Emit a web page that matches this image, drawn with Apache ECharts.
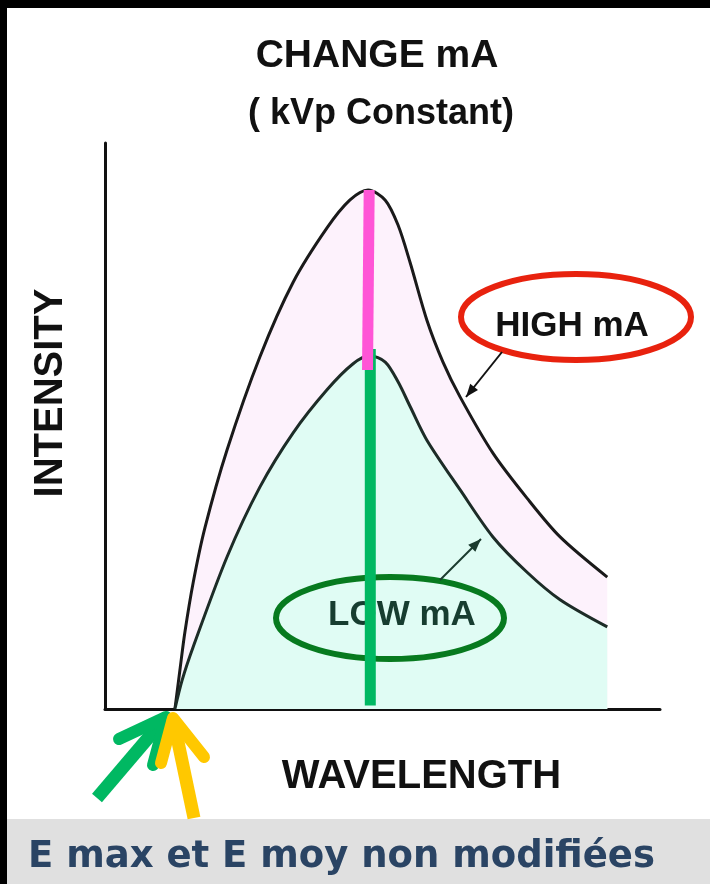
<!DOCTYPE html>
<html>
<head>
<meta charset="utf-8">
<script src="https://cdn.jsdelivr.net/npm/echarts@6/dist/echarts.min.js"></script>
<style>
  html, body { margin: 0; padding: 0; background: #000; }
  #chart { width: 710px; height: 884px; }
</style>
</head>
<body>
<div id="chart"></div>
<script>
// Emission spectrum at two tube currents (arbitrary units)
const highWavelength = [12.6, 13.5, 14.4, 15.9, 18.0, 22.0, 27.9, 33.9, 40.0, 44.1, 47.4, 50.5, 52.8, 55.0, 58.0, 60.9, 64.0, 69.9, 76.0, 82.0, 90.5];
const highIntensity  = [0,    6.9,  13.6, 22.4, 32.0, 45.8, 62.2, 75.4, 85.0, 89.9, 91.7, 89.9, 85.5, 78.8, 68.7, 61.3, 55.1, 45.2, 37.3, 30.4, 23.3];

const lowWavelength  = [12.6, 13.9, 15.9, 22.0, 27.9, 33.9, 40.0, 44.7, 47.7, 50.5, 52.8, 55.0, 58.0, 64.0, 69.9, 76.0, 82.0, 90.5];
const lowIntensity   = [0,    5.1,  11.0, 26.9, 39.2, 48.8, 56.4, 61.0, 62.4, 61.3, 57.8, 53.4, 47.5, 38.7, 30.4, 24.2, 19.3, 14.5];

// Wavelength of maximum intensity (same for both currents)
const peakWavelength = 47.6;

const titleText = 'CHANGE mA';
const subtitleText = '( kVp Constant)';
const xName = 'WAVELENGTH';
const yName = 'INTENSITY';
const highLabel = 'HIGH mA';
const lowLabel = 'LOW mA';
const noteText = 'E max et E moy non modifiées';

const pairs = (xs, ys) => xs.map((x, i) => [x, ys[i]]);
const highPeak = Math.max(...highIntensity);
const lowPeak = Math.max(...lowIntensity);

const chart = echarts.init(document.getElementById('chart'), null, { renderer: 'canvas' });

const FONT = 'Liberation Sans, Arial, sans-serif';

function arrowHead(tip, from, len, half) {
  const dx = tip[0] - from[0], dy = tip[1] - from[1];
  const d = Math.hypot(dx, dy);
  const ux = dx / d, uy = dy / d;
  const bx = tip[0] - ux * len, by = tip[1] - uy * len;
  return [tip, [bx - uy * half, by + ux * half], [bx + uy * half, by - ux * half]];
}

const highArrowFrom = [502, 352], highArrowTip = [466, 397];
const lowArrowFrom = [440, 580], lowArrowTip = [481, 539];

chart.setOption({
  animation: false,
  backgroundColor: 'transparent',
  title: [
    { text: titleText, left: 372, top: 32, textAlign: 'center',
      textStyle: { fontFamily: FONT, fontSize: 39, fontWeight: 'bold', color: '#111' } },
    { text: subtitleText, left: 376, top: 91, textAlign: 'center',
      textStyle: { fontFamily: FONT, fontSize: 36, fontWeight: 'bold', color: '#111' } }
  ],
  grid: { left: 105, top: 143, right: 50, bottom: 175 },
  xAxis: {
    type: 'value', min: 0, max: 100,
    name: xName, nameLocation: 'middle', nameGap: 48,
    nameTextStyle: { fontFamily: FONT, fontSize: 40, fontWeight: 'bold', color: '#111', padding: [0, 0, 0, 78] },
    axisLine: { lineStyle: { color: '#111', width: 3 } },
    axisTick: { show: false }, axisLabel: { show: false }, splitLine: { show: false }
  },
  yAxis: {
    type: 'value', min: 0, max: 100,
    name: yName, nameLocation: 'middle', nameGap: 34, nameRotate: 90,
    nameTextStyle: { fontFamily: FONT, fontSize: 40, fontWeight: 'bold', color: '#111', padding: [0, 0, 0, 66] },
    axisLine: { lineStyle: { color: '#111', width: 3 } },
    axisTick: { show: false }, axisLabel: { show: false }, splitLine: { show: false }
  },
  series: [
    {
      name: highLabel, type: 'line', data: pairs(highWavelength, highIntensity),
      smooth: 0.3, symbol: 'none', z: 2,
      lineStyle: { color: '#1a1a1a', width: 3 },
      areaStyle: { color: '#fdf2fc', opacity: 1 }
    },
    {
      name: lowLabel, type: 'line', data: pairs(lowWavelength, lowIntensity),
      smooth: 0.3, symbol: 'none', z: 3,
      lineStyle: { color: '#1d2c27', width: 3 },
      areaStyle: { color: '#e0fcf4', opacity: 1 }
    },
    {
      name: 'peak-low', type: 'line', symbol: 'none', z: 10,
      data: [[peakWavelength + 0.2, lowPeak + 1.2], [peakWavelength + 0.2, 0.6]],
      lineStyle: { color: '#00b862', width: 11, cap: 'butt' }
    },
    {
      name: 'peak-high', type: 'line', symbol: 'none', z: 11,
      data: [[peakWavelength, highPeak], [peakWavelength - 0.3, lowPeak - 2.5]],
      lineStyle: { color: '#ff55d6', width: 11, cap: 'butt' }
    }
  ],
  graphic: [
    // page frame
    { type: 'rect', z: -10, shape: { x: 7, y: 8, width: 703, height: 811 }, style: { fill: '#ffffff' } },
    { type: 'rect', z: -10, shape: { x: 7, y: 819, width: 703, height: 65 }, style: { fill: '#e0e0e0' } },
    { type: 'text', z: 5, style: { x: 28, y: 857, text: noteText, fill: '#2a4464',
      font: 'bold 37px "DejaVu Sans", sans-serif', verticalAlign: 'middle', textAlign: 'left' } },

    // curve labels
    { type: 'ellipse', z: 5, shape: { cx: 576, cy: 317, rx: 115, ry: 43 },
      style: { fill: 'none', stroke: '#e8220e', lineWidth: 6 } },
    { type: 'text', z: 6, style: { x: 572, y: 326, text: highLabel, fill: '#111',
      font: 'bold 35px ' + FONT, textAlign: 'center', verticalAlign: 'middle' } },
    { type: 'line', z: 6, shape: { x1: highArrowFrom[0], y1: highArrowFrom[1], x2: highArrowTip[0], y2: highArrowTip[1] },
      style: { stroke: '#111', lineWidth: 2 } },
    { type: 'polygon', z: 6, shape: { points: arrowHead(highArrowTip, highArrowFrom, 13, 5) }, style: { fill: '#111' } },

    { type: 'ellipse', z: 5, shape: { cx: 390, cy: 618, rx: 114, ry: 41 },
      style: { fill: 'none', stroke: '#077a1f', lineWidth: 6 } },
    { type: 'text', z: 6, style: { x: 402, y: 615, text: lowLabel, fill: '#173d30',
      font: 'bold 35px ' + FONT, textAlign: 'center', verticalAlign: 'middle' } },
    { type: 'line', z: 6, shape: { x1: lowArrowFrom[0], y1: lowArrowFrom[1], x2: lowArrowTip[0], y2: lowArrowTip[1] },
      style: { stroke: '#1b3a2e', lineWidth: 2 } },
    { type: 'polygon', z: 6, shape: { points: arrowHead(lowArrowTip, lowArrowFrom, 13, 5) }, style: { fill: '#1b3a2e' } },

    // pointers to the short-wavelength limit
    { type: 'polyline', z: 12, shape: { points: [[97, 798], [166, 717]] },
      style: { stroke: '#00b862', lineWidth: 13, lineCap: 'butt', fill: 'none' } },
    { type: 'polyline', z: 12, shape: { points: [[119, 739], [166, 717], [153, 765]] },
      style: { stroke: '#00b862', lineWidth: 12, lineCap: 'round', lineJoin: 'round', fill: 'none' } },
    { type: 'polyline', z: 13, shape: { points: [[194, 818], [173, 718]] },
      style: { stroke: '#ffc800', lineWidth: 13, lineCap: 'butt', fill: 'none' } },
    { type: 'polyline', z: 13, shape: { points: [[161, 763], [173, 718], [204, 757]] },
      style: { stroke: '#ffc800', lineWidth: 12, lineCap: 'round', lineJoin: 'round', fill: 'none' } }
  ]
});
</script>
</body>
</html>
